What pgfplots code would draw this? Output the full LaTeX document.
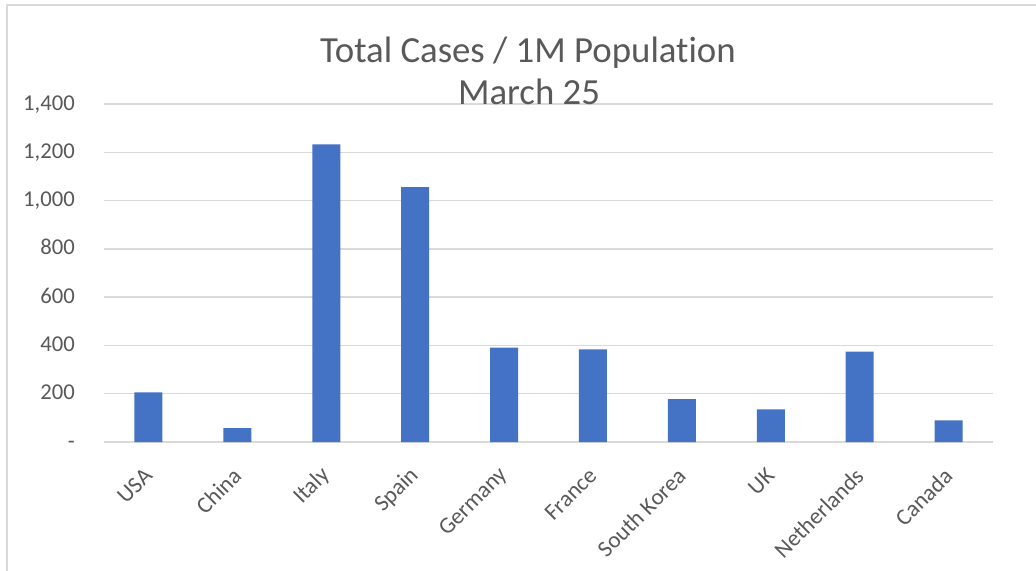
\documentclass[border=0pt]{standalone}
\usepackage{pgfplots}
\pgfplotsset{compat=1.18}
\usepackage{fontspec}
\setmainfont{Carlito}[Ligatures={NoCommon,NoDiscretionary}]
\definecolor{barblue}{HTML}{4472C4}
\definecolor{gridgray}{HTML}{D9D9D9}
\definecolor{txtgray}{HTML}{595959}
\begin{document}
\begin{tikzpicture}[x=0.75pt,y=-0.75pt]
\useasboundingbox (0,0) rectangle (1036,571);
\fill[white] (0,0) rectangle (1036,571);
\draw[gridgray, line width=1.2pt] (7,571) -- (7,5) -- (1036,5);
\begin{axis}[
  at={(78pt,-331.5pt)}, anchor=south west,
  scale only axis, width=666.75pt, height=253.5pt,
  xmin=-0.5, xmax=9.5, ymin=0, ymax=1400,
  axis line style={draw=none},
  major tick length=0pt,
  ymajorgrids, grid style={gridgray, line width=1.1pt},
  ytick={0,200,400,600,800,1000,1200,1400},
  yticklabels={-\hspace{9pt},200,400,600,800,{1,000},{1,200},{1,400}},
  yticklabel style={anchor=base east, inner sep=0pt, xshift=-21.75pt, yshift=-4.5pt, text=txtgray, font=\fontsize{17}{20}\selectfont},
  xtick={0,1,2,3,4,5,6,7,8,9},
  xticklabels={USA,China,Italy,Spain,Germany,France,South Korea,UK,Netherlands,Canada},
  xticklabel style={xshift=0pt, yshift=-22.5pt, rotate=45, anchor=east, inner sep=0pt, text=txtgray, font=\fontsize{17.3}{20}\selectfont},
  ybar, bar width=21pt,
  clip=false,
]
\addplot[fill=barblue, draw=none] coordinates {
  (0,206) (1,57) (2,1233) (3,1056) (4,391) (5,384) (6,178) (7,135) (8,374) (9,90)
};
\end{axis}
\node[anchor=base, text=txtgray, inner sep=0pt, font=\fontsize{27.6}{33}\selectfont] at (528,62) {Total Cases / 1M Population};
\node[anchor=base, text=txtgray, inner sep=0pt, font=\fontsize{27.6}{33}\selectfont] at (529,104) {March 25};
\end{tikzpicture}
\end{document}
